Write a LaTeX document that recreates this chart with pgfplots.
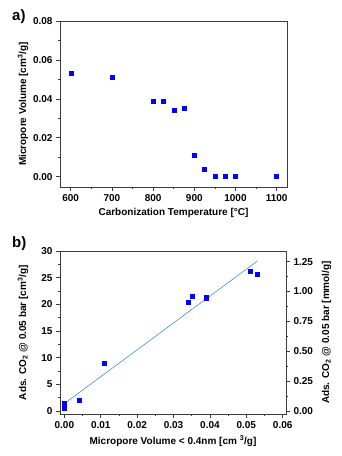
\documentclass[border=0pt]{standalone}
\usepackage{fontspec}
\setmainfont{Liberation Sans}
\usepackage{pgfplots}
\pgfplotsset{compat=1.18}
\definecolor{mk}{RGB}{0,0,255}
\definecolor{fitc}{RGB}{60,145,205}
\definecolor{axc}{RGB}{60,60,60}
\begin{document}
\begin{tikzpicture}
\useasboundingbox (0pt,0pt) rectangle (342pt,456pt);
\pgfplotsset{every axis/.append style={
  scale only axis,
  axis line style={axc, line width=0.8pt},
  tick style={axc, line width=0.6pt},
  major tick length=4pt, minor tick length=2pt,
  tick align=outside,
  tick label style={font=\fontsize{10}{12}\selectfont\bfseries},
  label style={font=\fontsize{10}{12}\selectfont\bfseries},
  /pgf/number format/assume math mode=true,
  scaled x ticks=false, scaled y ticks=false,
}}
% ---------- a) ----------
\begin{axis}[
  at={(60pt,269pt)}, anchor=south west, width=227pt, height=166pt,
  xmin=574, xmax=1125, ymin=-0.0053, ymax=0.08,
  xtick={600,700,800,900,1000,1100},
  minor xtick={650,750,850,950,1050},
  ytick={0,0.02,0.04,0.06,0.08},
  minor ytick={0.01,0.03,0.05,0.07},
  xtick pos=bottom, ytick pos=left,
  x tick label style={/pgf/number format/1000 sep={}},
  y tick label style={/pgf/number format/fixed, /pgf/number format/fixed zerofill, /pgf/number format/precision=2},
  xlabel={Carbonization Temperature [°C]},
  ylabel={Micropore Volume [cm\textsuperscript{3}/g]},
  xlabel style={at={(axis description cs:0.5,-0.157)}, anchor=center},
  ylabel style={at={(axis description cs:-0.163,0.5)}, anchor=center},
]
\addplot[only marks, mark=square*, mark size=2pt, mark options={fill=mk, draw=mk}] coordinates {
(600,0.053) (700,0.051) (800,0.039) (825,0.039) (850,0.034) (875,0.035)
(900,0.011) (925,0.004) (950,0) (975,0) (1000,0) (1100,0)
};
\end{axis}
% ---------- b) ----------
\begin{axis}[
  at={(60pt,42pt)}, anchor=south west, width=226pt, height=163pt,
  xmin=-0.0012, xmax=0.0609, ymin=-0.56, ymax=30,
  xtick={0,0.01,0.02,0.03,0.04,0.05,0.06},
  minor xtick={0.005,0.015,0.025,0.035,0.045,0.055},
  ytick={0,5,10,15,20,25,30},
  minor ytick={2.5,7.5,12.5,17.5,22.5,27.5},
  xtick pos=bottom, ytick pos=left,
  x tick label style={/pgf/number format/fixed, /pgf/number format/fixed zerofill, /pgf/number format/precision=2},
  xlabel={Micropore Volume < 0.4nm [cm \textsuperscript{3}/g]},
  ylabel={Ads. CO\textsubscript{2} @ 0.05 bar [cm\textsuperscript{3}/g]},
  xlabel style={at={(axis description cs:0.5,-0.166)}, anchor=center},
  ylabel style={at={(axis description cs:-0.164,0.5)}, anchor=center},
]
\addplot[fitc, line width=0.6pt, no marks] coordinates {(0,1.4) (0.053,28.1)};
\addplot[only marks, mark=square*, mark size=2pt, mark options={fill=mk, draw=mk}] coordinates {
(0,0.5) (0,0.9) (0,1.4) (0.004,1.95) (0.011,9.05) (0.034,20.4) (0.035,21.5)
(0.039,21.2) (0.039,21.4) (0.051,26.3) (0.053,25.7)
};
\end{axis}
\begin{axis}[
  at={(60pt,42pt)}, anchor=south west, width=226pt, height=163pt,
  xmin=-0.0012, xmax=0.0609, ymin=-0.025, ymax=1.3393,
  axis y line*=right, hide x axis,
  ytick={0,0.25,0.5,0.75,1,1.25},
  minor ytick={0.125,0.375,0.625,0.875,1.125},
  y tick label style={/pgf/number format/fixed, /pgf/number format/fixed zerofill, /pgf/number format/precision=2},
  ylabel={Ads. CO\textsubscript{2} @ 0.05 bar [mmol/g]},
  ylabel style={at={(axis description cs:1.18,0.5)}, anchor=center, rotate=0},
]
\end{axis}
\node[font=\fontsize{15}{18}\selectfont\bfseries, anchor=base west, inner sep=0pt] at (12pt,435pt) {a)};
\node[font=\fontsize{15}{18}\selectfont\bfseries, anchor=base west, inner sep=0pt] at (12pt,208pt) {b)};
\end{tikzpicture}
\end{document}
